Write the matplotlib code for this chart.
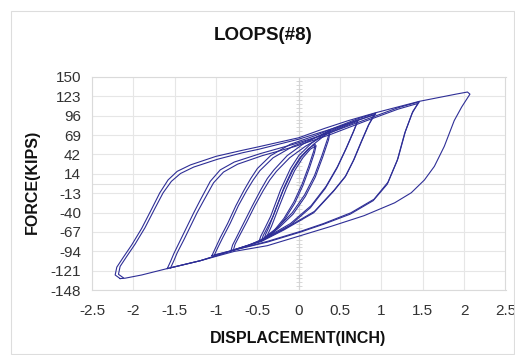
import matplotlib
matplotlib.use("Agg")
import matplotlib.pyplot as plt
from matplotlib.patches import Rectangle
import numpy as np

plt.rcParams['font.family'] = ['Liberation Sans', 'DejaVu Sans']

# ---------------- data (displacement [inch], force [kips]) ----------------
TITLE = "LOOPS(#8)"
X_LABEL = "DISPLACEMENT(INCH)"
Y_LABEL = "FORCE(KIPS)"

X_TICKS = [-2.5, -2, -1.5, -1, -0.5, 0, 0.5, 1, 1.5, 2, 2.5]
X_TICK_LABELS = ["-2.5", "-2", "-1.5", "-1", "-0.5", "0", "0.5", "1", "1.5", "2", "2.5"]
Y_TICKS = [150, 122.91, 95.82, 68.73, 41.64, 14.55, -12.55, -39.64, -66.73, -93.82, -120.91, -148]
Y_TICK_LABELS = ["150", "123", "96", "69", "42", "14", "-13", "-40", "-67", "-94", "-121", "-148"]

# loop 1 (smallest)
L1_C1 = [(-0.42, -77), (-0.40, -70), (-0.36, -60), (-0.28, -35), (-0.18, -5), (-0.08, 20),
         (0.02, 38), (0.12, 50), (0.20, 56), (0.18, 46), (0.12, 25), (0.04, 0),
         (-0.06, -25), (-0.18, -48), (-0.30, -65), (-0.42, -77)]
L1_C2 = [(-0.40, -76), (-0.37, -69), (-0.33, -59), (-0.25, -35), (-0.15, -6), (-0.05, 19),
         (0.05, 37), (0.14, 49), (0.21, 54), (0.19, 44), (0.13, 23), (0.05, -2),
         (-0.05, -27), (-0.17, -49), (-0.29, -66), (-0.40, -76)]
# loop 2
L2_C1 = [(-0.48, -80), (-0.46, -73), (-0.42, -64), (-0.34, -45), (-0.22, -8), (-0.10, 22),
         (0.00, 40), (0.15, 57), (0.30, 70), (0.38, 76), (0.35, 64), (0.28, 40),
         (0.19, 12), (0.07, -15), (-0.08, -40), (-0.25, -60), (-0.42, -75), (-0.48, -80)]
L2_C2 = [(-0.45, -79), (-0.43, -72), (-0.39, -63), (-0.31, -45), (-0.19, -9), (-0.07, 20),
         (0.03, 38), (0.17, 55), (0.31, 68), (0.38, 74), (0.36, 62), (0.29, 38),
         (0.20, 10), (0.08, -17), (-0.07, -42), (-0.24, -61), (-0.40, -75), (-0.45, -79)]
# loop 3
L3_C1 = [(-0.82, -93), (-0.80, -85), (-0.76, -76), (-0.66, -53), (-0.56, -30), (-0.46, -8),
         (-0.38, 8), (-0.30, 20), (-0.14, 40), (0.05, 56), (0.30, 71), (0.55, 83), (0.72, 90),
         (0.67, 76), (0.58, 52), (0.47, 25), (0.33, -3), (0.15, -30), (-0.10, -55),
         (-0.40, -75), (-0.60, -85), (-0.82, -93)]
L3_C2 = [(-0.79, -92), (-0.77, -84), (-0.73, -75), (-0.63, -53), (-0.53, -30), (-0.43, -9),
         (-0.35, 6), (-0.27, 18), (-0.11, 37), (0.08, 53), (0.32, 69), (0.56, 81), (0.71, 88),
         (0.66, 73), (0.57, 49), (0.46, 22), (0.32, -6), (0.14, -33), (-0.10, -57),
         (-0.40, -76), (-0.60, -85), (-0.79, -92)]
# loop 4
L4_C1 = [(-1.05, -100), (-1.01, -90), (-0.95, -75), (-0.86, -55), (-0.76, -30), (-0.66, -8),
         (-0.58, 8), (-0.50, 22), (-0.34, 40), (-0.10, 56), (0.20, 68), (0.39, 77), (0.70, 91),
         (0.93, 99.5), (0.85, 84), (0.76, 60), (0.67, 35), (0.57, 12), (0.43, -8), (0.19, -38),
         (-0.18, -63), (-0.45, -79), (-0.78, -92), (-1.05, -100)]
L4_C2 = [(-1.02, -99), (-0.98, -89), (-0.92, -75), (-0.83, -55), (-0.73, -30), (-0.63, -9),
         (-0.55, 6), (-0.47, 19), (-0.31, 37), (-0.07, 53), (0.22, 66), (0.41, 75), (0.70, 89),
         (0.91, 97), (0.84, 82), (0.75, 58), (0.66, 33), (0.56, 10), (0.42, -10), (0.18, -40),
         (-0.18, -64), (-0.45, -80), (-0.78, -92), (-1.02, -99)]
# loop 5
L5_C1 = [(-1.59, -118), (-1.55, -108), (-1.51, -97), (-1.43, -78), (-1.35, -59), (-1.27, -40),
         (-1.19, -22), (-1.07, 4), (-0.95, 20), (-0.78, 31), (-0.46, 43), (-0.06, 56),
         (0.35, 71), (0.80, 90), (1.20, 107), (1.46, 115.5), (1.38, 102), (1.29, 74), (1.20, 36),
         (1.08, 3), (0.91, -21), (0.63, -40), (0.30, -55), (0.02, -66), (-0.38, -80),
         (-0.78, -92), (-1.19, -107), (-1.59, -118)]
L5_C2 = [(-1.55, -117), (-1.51, -107), (-1.47, -96), (-1.39, -78), (-1.31, -59), (-1.23, -40),
         (-1.15, -23), (-1.03, 2), (-0.91, 17), (-0.74, 28), (-0.44, 40), (-0.04, 53),
         (0.37, 69), (0.80, 88), (1.20, 105), (1.44, 113), (1.37, 99), (1.28, 71), (1.19, 33),
         (1.07, 0), (0.90, -23), (0.62, -42), (0.30, -56), (0.02, -67), (-0.38, -81),
         (-0.78, -92), (-1.19, -107), (-1.55, -117)]
# loop 6 (largest)
L6_C1 = [(-2.16, -132), (-2.22, -127), (-2.20, -116), (-2.12, -102), (-2.02, -85), (-1.90, -62),
         (-1.78, -35), (-1.68, -12), (-1.58, 6), (-1.47, 18), (-1.31, 27), (-1.00, 39),
         (-0.70, 47), (-0.50, 52), (0.00, 65), (0.31, 78), (0.60, 89), (0.93, 100), (1.46, 116),
         (1.90, 126), (2.04, 129), (2.07, 126), (1.97, 108), (1.88, 89), (1.76, 53), (1.64, 25),
         (1.52, 6), (1.36, -12), (1.16, -26), (0.79, -44), (0.39, -59), (0.02, -72),
         (-0.38, -86), (-0.78, -94), (-1.19, -107), (-1.59, -118), (-1.90, -127),
         (-2.10, -131.5), (-2.16, -132)]
L6_C2 = [(-2.12, -131), (-2.18, -126), (-2.16, -115), (-2.08, -101), (-1.98, -84), (-1.86, -61),
         (-1.74, -34), (-1.64, -12), (-1.54, 4), (-1.43, 15), (-1.27, 24), (-0.98, 35),
         (-0.68, 44), (-0.48, 49), (0.00, 63), (0.50, 81), (0.93, 98)]

CYCLES = [L1_C1, L1_C2, L2_C1, L2_C2, L3_C1, L3_C2, L4_C1, L4_C2, L5_C1, L5_C2, L6_C1, L6_C2]

# ---------------- figure ----------------
W, H = 515, 355
fig = plt.figure(figsize=(W / 100, H / 100), dpi=100)
fig.patch.set_facecolor('white')

# chart-area border
fig.add_artist(Rectangle((11 / W, 1 / H), (W - 12) / W, (H - 12) / H,
                         transform=fig.transFigure, fill=False,
                         edgecolor='#dddddd', lw=0.8))

ax = fig.add_axes([92 / W, 65 / H, 413.5 / W, 213 / H])
ax.set_xlim(-2.5, 2.5)
ax.set_ylim(-148, 150)

ax.set_xticks(X_TICKS)
ax.set_xticklabels(X_TICK_LABELS)
ax.set_yticks(Y_TICKS)
ax.set_yticklabels(Y_TICK_LABELS)
ax.tick_params(axis='both', length=0, labelsize=11, colors='#333333')
ax.tick_params(axis='y', pad=8)
ax.tick_params(axis='x', pad=10)

ax.grid(True, color='#e6e6e6', lw=0.8)
ax.set_axisbelow(True)
for s in ax.spines.values():
    s.set_color('#dadada')
    s.set_linewidth(0.8)

# axis lines through origin with minor tick marks on the vertical one
ax.axvline(0, color='#d6d6d6', lw=0.8, zorder=1)
ax.axhline(0, color='#e0e0e0', lw=0.8, zorder=1)
minor_y = np.linspace(-148, 150, 56)
ax.plot(np.zeros_like(minor_y), minor_y, ls='none', marker='_', ms=5,
        mew=0.6, color='#d2d2d2', zorder=1)

for cyc in CYCLES:
    xs, ys = zip(*cyc)
    ax.plot(xs, ys, color='#2e2e96', lw=0.8, solid_joinstyle='round', zorder=3)

fig.text(263 / W, 1 - 36 / H, TITLE, ha='center', va='center',
         fontsize=13.5, fontweight='bold', color='#111111')
fig.text(298 / W, 1 - 338 / H, X_LABEL, ha='center', va='center',
         fontsize=11.5, fontweight='bold', color='#111111')
fig.text(32 / W, 1 - 182 / H, Y_LABEL, ha='center', va='center', rotation=90,
         fontsize=11.5, fontweight='bold', color='#111111')

fig.savefig('out.png', dpi=100, facecolor='white')
